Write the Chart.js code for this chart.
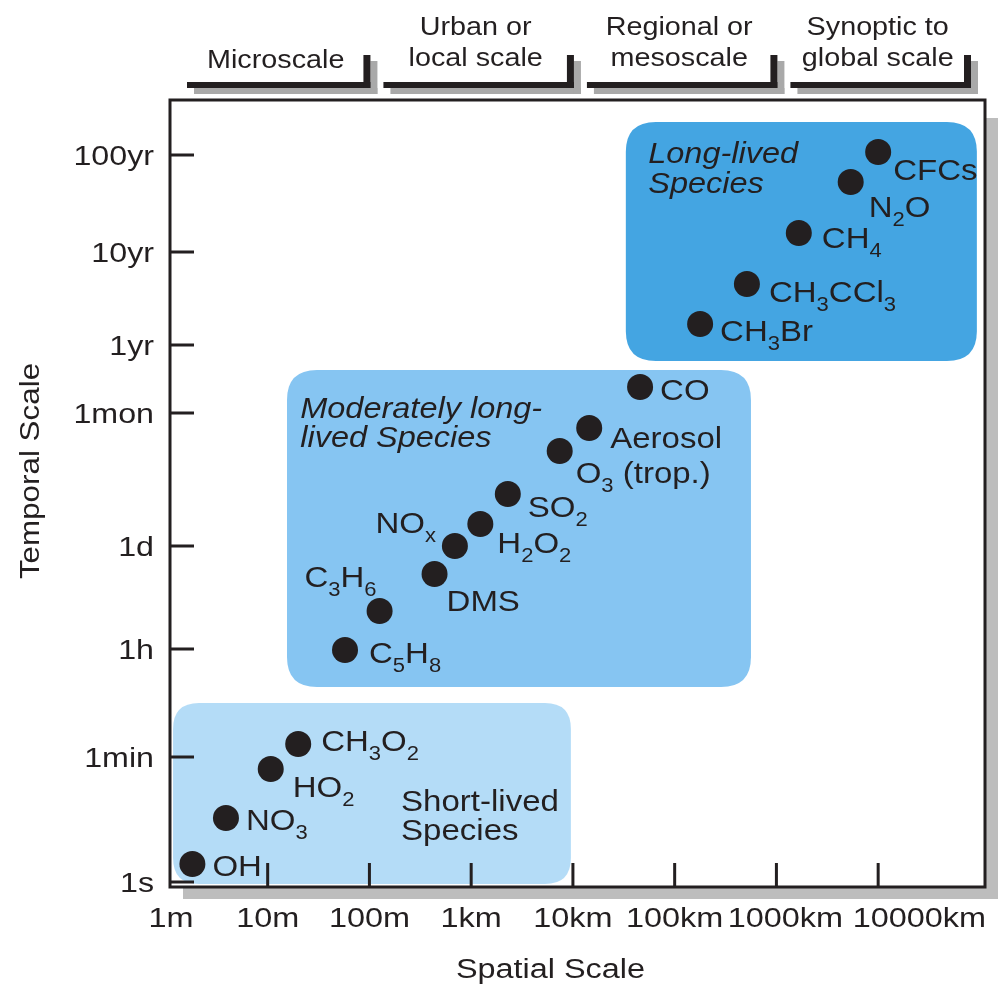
<!DOCTYPE html>
<html>
<head>
<meta charset="utf-8">
<title>Spatial and temporal scales of atmospheric species</title>
<script src="https://cdn.jsdelivr.net/npm/chart.js@4.4.0/dist/chart.umd.min.js"></script>
<style>
  html, body { margin: 0; padding: 0; background: #fff; }
  canvas { display: block; }
</style>
</head>
<body>
<canvas id="chart" width="998" height="989"></canvas>
<script>
// ===============================
// DATA
// ===============================
// x = log10(metres), y = position on the (hand drawn) temporal axis

const longNames = ["CFCs", "N_2O", "CH_4", "CH_3CCl_3", "CH_3Br"];
const longX = [7.0, 6.73, 6.22, 5.71, 5.25];
const longY = [7.35, 7.05, 6.54, 6.03, 5.63];

const modNames = ["CO", "Aerosol", "O_3 (trop.)", "SO_2", "H_2O_2", "NO_x", "DMS", "C_3H_6", "C_5H_8"];
const modX = [4.66, 4.16, 3.87, 3.36, 3.09, 2.84, 2.64, 2.10, 1.76];
const modY = [5.00, 4.59, 4.36, 3.93, 3.63, 3.41, 3.13, 2.76, 2.37];

const shortNames = ["CH_3O_2", "HO_2", "NO_3", "OH"];
const shortX = [1.30, 1.03, 0.59, 0.26];
const shortY = [1.43, 1.18, 0.69, 0.23];

const xTickValues = [0, 1, 2, 3, 4, 5, 6, 7];
const xTickLabels = ["1m", "10m", "100m", "1km", "10km", "100km", "1000km", "10000km"];

const yTickValues = [0.05, 1.30, 2.38, 3.41, 4.74, 5.42, 6.35, 7.32];
const yTickLabels = ["1s", "1min", "1h", "1d", "1mon", "1yr", "10yr", "100yr"];

// scale bands along the top (decades of metres)
const bandRanges = [[0, 2], [2, 4], [4, 6], [6, 8]];
const bandLabels = [["Microscale"], ["Urban or", "local scale"], ["Regional or", "mesoscale"], ["Synoptic to", "global scale"]];

// lifetime regions: [x0, x1, y0, y1]
const boxLong = [4.52, 7.97, 5.26, 7.65];
const boxMod = [1.19, 5.75, 2.00, 5.17];
const boxShort = [0.07, 3.98, 0.03, 1.84];


// ===============================
// LAYOUT / STYLE
// ===============================
const INK = "#231f20";
const FONT = "'Liberation Sans', Arial, Helvetica, sans-serif";
const COL_LONG = "rgb(68,165,226)";
const COL_MOD = "rgb(134,197,242)";
const COL_SHORT = "rgb(180,220,247)";

// label offsets from point centre (px): dx, dy to baseline, align
const longOffsets = [[15, 28, "left"], [18, 35, "left"], [23, 15, "left"], [22, 18, "left"], [20, 17, "left"]];
const modOffsets = [[20, 13, "left"], [21, 20, "left"], [16, 32, "left"], [20, 23, "left"], [17, 29, "left"],
                    [-19, -13, "right"], [12, 37, "left"], [-3, -24, "right"], [24, 13, "left"]];
const shortOffsets = [[23, 7, "left"], [22, 28, "left"], [20, 12, "left"], [20, 12, "left"]];


// split "CH_3CCl_3" into normal / subscript pieces
function splitSub(str) {
    const out = [];
    let buf = "";
    for (let i = 0; i < str.length; i++) {
        if (str[i] === "_" && i + 1 < str.length) {
            if (buf) out.push({ t: buf, sub: false });
            buf = "";
            out.push({ t: str[i + 1], sub: true });
            i++;
        } else {
            buf += str[i];
        }
    }
    if (buf) out.push({ t: buf, sub: false });
    return out;
}

function setFont(ctx, size, italic) {
    ctx.font = (italic ? "italic " : "") + size + "px " + FONT;
}

// text drawn slightly wide, like the original artwork
function drawText(ctx, str, x, y, o = {}) {
    const size = o.size || 30;
    const sx = o.stretch || 1.1;
    const subSize = Math.round(size * 0.68);
    const segs = splitSub(str);
    let w = 0;
    segs.forEach(s => {
        setFont(ctx, s.sub ? subSize : size, o.italic);
        s.w = ctx.measureText(s.t).width;
        w += s.w;
    });
    let cx = 0;
    if (o.align === "right") cx = -w;
    else if (o.align === "center") cx = -w / 2;

    ctx.save();
    ctx.translate(x, y);
    if (o.rotate) ctx.rotate(o.rotate);
    ctx.scale(sx, 1);
    ctx.fillStyle = INK;
    ctx.textAlign = "left";
    ctx.textBaseline = o.baseline || "alphabetic";
    segs.forEach(s => {
        setFont(ctx, s.sub ? subSize : size, o.italic);
        ctx.fillText(s.t, cx, s.sub ? size * 0.3 : 0);
        cx += s.w;
    });
    ctx.restore();
}

function roundBox(ctx, x0, y0, x1, y1, r, color) {
    ctx.beginPath();
    ctx.moveTo(x0 + r, y0);
    ctx.lineTo(x1 - r, y0);
    ctx.quadraticCurveTo(x1, y0, x1, y0 + r);
    ctx.lineTo(x1, y1 - r);
    ctx.quadraticCurveTo(x1, y1, x1 - r, y1);
    ctx.lineTo(x0 + r, y1);
    ctx.quadraticCurveTo(x0, y1, x0, y1 - r);
    ctx.lineTo(x0, y0 + r);
    ctx.quadraticCurveTo(x0, y0, x0 + r, y0);
    ctx.closePath();
    ctx.fillStyle = color;
    ctx.fill();
}


// ===============================
// PLUGIN: frame, boxes, ticks, labels
// ===============================
const artwork = {
    id: "artwork",

    beforeDraw(chart) {
        const { ctx, chartArea: a, scales } = chart;
        const px = v => scales.x.getPixelForValue(v);

        ctx.save();
        ctx.fillStyle = "#fff";
        ctx.fillRect(0, 0, chart.width, chart.height);

        // drop shadow + plot background
        ctx.fillStyle = "#bdbdbd";
        ctx.fillRect(a.left + 13, a.top + 18, a.right - a.left, a.bottom - a.top - 6);
        ctx.fillStyle = "#fff";
        ctx.fillRect(a.left, a.top, a.right - a.left, a.bottom - a.top);

        // scale bands (L shaped brackets)
        bandRanges.forEach((r, i) => {
            const left = Math.max(px(r[0]) + 14, a.left + 17);
            const right = Math.min(px(r[1]) + 1, a.right - 14);
            [["#a9a9a9", 7, 6], [INK, 0, 0]].forEach(([c, ox, oy]) => {
                ctx.fillStyle = c;
                ctx.fillRect(left + ox, 82 + oy, right - left, 6);
                ctx.fillRect(right - 7 + ox, 55 + oy, 7, 33);
            });
            const mid = (left + right) / 2 - 3;
            const lines = bandLabels[i];
            if (lines.length === 1) {
                drawText(ctx, lines[0], mid, 68, { size: 25, stretch: 1.15, align: "center" });
            } else {
                drawText(ctx, lines[0], mid, 35, { size: 25, stretch: 1.15, align: "center" });
                drawText(ctx, lines[1], mid, 66, { size: 25, stretch: 1.15, align: "center" });
            }
        });
        ctx.restore();
    },

    beforeDatasetsDraw(chart) {
        const { ctx, chartArea: a, scales } = chart;
        const px = v => scales.x.getPixelForValue(v);
        const py = v => scales.y.getPixelForValue(v);

        ctx.save();
        [[boxLong, COL_LONG, 30], [boxMod, COL_MOD, 30], [boxShort, COL_SHORT, 26]].forEach(([b, c, r]) => {
            roundBox(ctx, px(b[0]), py(b[3]), px(b[1]), py(b[2]), r, c);
        });

        // region titles
        drawText(ctx, "Long-lived", px(4.74), py(7.24), { size: 29, italic: true, stretch: 1.12 });
        drawText(ctx, "Species", px(4.74), py(6.94), { size: 29, italic: true, stretch: 1.12 });
        drawText(ctx, "Moderately long-", px(1.32), py(4.69), { size: 29, italic: true, stretch: 1.12 });
        drawText(ctx, "lived Species", px(1.32), py(4.40), { size: 29, italic: true, stretch: 1.12 });
        drawText(ctx, "Short-lived", px(2.31), py(0.76), { size: 29, stretch: 1.14 });
        drawText(ctx, "Species", px(2.31), py(0.47), { size: 29, stretch: 1.14 });

        // inward ticks
        ctx.strokeStyle = INK;
        ctx.lineWidth = 3;
        ctx.beginPath();
        xTickValues.forEach(v => {
            if (v === 0) return;
            ctx.moveTo(px(v), a.bottom);
            ctx.lineTo(px(v), a.bottom - 24);
        });
        yTickValues.forEach(v => {
            ctx.moveTo(a.left, py(v));
            ctx.lineTo(a.left + 24, py(v));
        });
        ctx.stroke();

        // frame
        ctx.strokeRect(a.left, a.top, a.right - a.left, a.bottom - a.top);
        ctx.restore();
    },

    afterDatasetsDraw(chart) {
        const { ctx, chartArea: a, scales } = chart;
        const px = v => scales.x.getPixelForValue(v);
        const py = v => scales.y.getPixelForValue(v);

        ctx.save();
        // species labels
        [[longNames, longX, longY, longOffsets], [modNames, modX, modY, modOffsets],
         [shortNames, shortX, shortY, shortOffsets]].forEach(([names, xs, ys, offs]) => {
            names.forEach((n, i) => {
                const [dx, dy, al] = offs[i];
                drawText(ctx, n, px(xs[i]) + dx, py(ys[i]) + dy, { size: 30, stretch: 1.1, align: al });
            });
        });

        // y tick labels
        yTickValues.forEach((v, i) => {
            drawText(ctx, yTickLabels[i], a.left - 16, py(v) + 10, { size: 28, stretch: 1.15, align: "right" });
        });

        // x tick labels
        xTickValues.forEach((v, i) => {
            const last = i === xTickValues.length - 1;
            let x = px(v);
            if (i === 0) x += 5;
            if (i === 6) x += 9;
            if (last) x = a.right + 1;
            drawText(ctx, xTickLabels[i], x, 927, { size: 27, stretch: 1.2, align: last ? "right" : "center" });
        });

        // axis titles
        drawText(ctx, "Spatial Scale", (a.left + a.right) / 2 - 27, 978, { size: 27, stretch: 1.2, align: "center" });
        drawText(ctx, "Temporal Scale", 31, 471, { size: 28, stretch: 1.12, align: "center", baseline: "middle", rotate: -Math.PI / 2 });
        ctx.restore();
    }
};


// ===============================
// CHART
// ===============================
const toPoints = (xs, ys) => xs.map((x, i) => ({ x: x, y: ys[i] }));

const pointStyle = {
    backgroundColor: INK,
    borderColor: INK,
    borderWidth: 0,
    pointRadius: 13,
    pointHoverRadius: 13
};

new Chart(document.getElementById("chart"), {
    type: "scatter",
    data: {
        datasets: [
            Object.assign({ label: "Long-lived", data: toPoints(longX, longY) }, pointStyle),
            Object.assign({ label: "Moderately long-lived", data: toPoints(modX, modY) }, pointStyle),
            Object.assign({ label: "Short-lived", data: toPoints(shortX, shortY) }, pointStyle)
        ]
    },
    options: {
        responsive: false,
        animation: false,
        layout: { padding: { left: 170, top: 100, right: 11, bottom: 102 } },
        plugins: {
            legend: { display: false },
            tooltip: { enabled: false }
        },
        scales: {
            x: { type: "linear", min: 0.04, max: 8.05, display: false },
            y: { type: "linear", min: 0, max: 7.87, display: false }
        }
    },
    plugins: [artwork]
});
</script>
</body>
</html>
